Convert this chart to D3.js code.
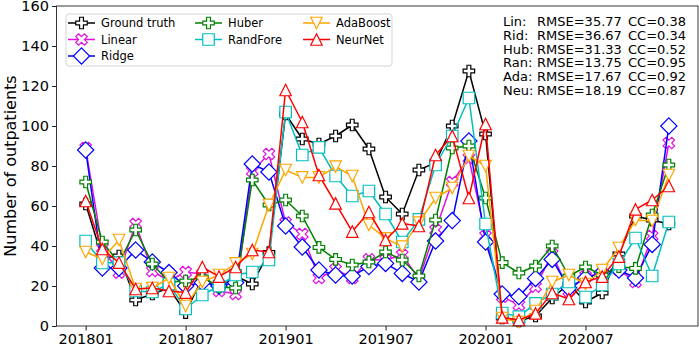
<!DOCTYPE html>
<html>
<head>
<meta charset="utf-8">
<script src="https://cdn.jsdelivr.net/npm/d3@7"></script>
<style>
  body { margin: 0; background: #fff; }
  svg { display: block; font-family: "DejaVu Sans", sans-serif; }
</style>
</head>
<body>
<script>
var w = 699;
var h = 344;

// tick labels on the month axis (index of month -> label)
var tickIdx = [0, 6, 12, 18, 24, 30];
var tickLab = ["201801", "201807", "201901", "201907", "202001", "202007"];
var yTicks = [0, 20, 40, 60, 80, 100, 120, 140, 160];

// series, one value per month, 2018-01 .. 2020-12
var truth = [61, 34, 35, 13, 16, 19, 6.7, 24, 19, 25, 21, 36.7, 106, 93.5, 91, 95, 100.5, 88.5, 64.5, 56, 78, 81.7, 100, 127.5, 96, 4, 2.5, 5, 14, 21, 12, 16.5, 36, 55, 53, 51];
var linear = [89, 39, 26.7, 51, 27.5, 22.5, 27, 26, 17.5, 16, 77.5, 86, 51.7, 46, 24, 28.3, 24, 33.3, 33, 35.5, 23.5, 48, 72, 84, 45, 14.7, 10.5, 19.7, 36, 17.5, 25, 26, 28, 22, 45, 91.5];
var ridge = [88, 29, 29, 38, 32, 26.7, 20, 21.7, 20, 21.7, 81, 77, 50, 39.5, 28, 25.5, 25, 29.7, 31.3, 26.3, 22, 42.5, 52.7, 92.5, 42, 16, 14.7, 23.8, 33.3, 19, 24, 26.7, 28, 24, 40.8, 100];
var huber = [72, 42, 31.7, 48, 31, 22, 22.5, 24.5, 19.5, 19, 73, 60.5, 63, 55, 39.3, 33.3, 30.5, 32, 37, 33, 25, 53, 89, 90, 64, 31.7, 26.5, 30, 40, 25, 29.5, 25.5, 29.7, 28.8, 55.5, 80.5];
var randfore = [42.5, 31.5, 31.7, 17.5, 17, 21, 8.5, 15.5, 20, 25.5, 27, 33, 107, 85.5, 89.3, 75, 65, 67.5, 56, 42, 53.3, 80.5, 95, 114, 51, 6.5, 4.7, 11.3, 16, 22, 14.5, 20.5, 31, 44, 25, 52];
var adaboost = [37, 33.5, 43, 18.5, 19, 24, 10, 22, 25.5, 31.3, 36, 60.5, 78, 74.3, 74.3, 79.7, 75, 50.5, 43.8, 39.7, 51.7, 64, 69, 85, 80, 4, 2, 7.5, 22, 25.5, 21, 28, 39, 53, 52.5, 75.5];
var neurnet = [62.5, 38.5, 31.7, 18.5, 19, 17.5, 16.7, 29.5, 24.7, 29.5, 38, 37, 118, 102, 75.5, 61.3, 47.2, 57, 43, 51.3, 50, 85.5, 95, 64, 101, 4.3, 3, 6.3, 16.5, 13.5, 22, 24.7, 34.7, 58.3, 63, 70];

var names = ["Ground truth", "Linear", "Ridge", "Huber", "RandFore", "AdaBoost", "NeurNet"];
var colors = ["#000000", "#e010e0", "#0000ff", "#008000", "#00bfbf", "#ffa500", "#ff0000"];
var shapes = ["plus", "x", "diamond", "plus", "square", "tri_down", "tri_up"];
var values = [truth, linear, ridge, huber, randfore, adaboost, neurnet];

var statLab = ["Lin:", "Rid:", "Hub:", "Ran:", "Ada:", "Neu:"];
var statRmse = ["35.77", "36.67", "31.33", "13.75", "17.67", "18.19"];
var statCc = ["0.38", "0.34", "0.52", "0.95", "0.92", "0.87"];

var pL = 56.5, pR = 698, pT = 6, pB = 326;
var ms = 11.5;

var svg = d3.select("body").append("svg")
    .attr("width", w)
    .attr("height", h);

var xScale = d3.scaleLinear()
    .domain([-1.75, 36.75])
    .range([pL, pR]);

var yScale = d3.scaleLinear()
    .domain([0, 160])
    .range([pB, pT]);

// marker outlines, centred at 0,0, s = marker size in px
function markerPath(kind, s) {
  var pts;
  if (kind == "plus") {
    pts = [[-1,-3],[1,-3],[1,-1],[3,-1],[3,1],[1,1],[1,3],[-1,3],[-1,1],[-3,1],[-3,-1],[-1,-1]]
      .map(function(p) { return [p[0] * s / 6, p[1] * s / 6]; });
  } else if (kind == "x") {
    pts = [[-1,-2],[0,-1],[1,-2],[2,-1],[1,0],[2,1],[1,2],[0,1],[-1,2],[-2,1],[-1,0],[-2,-1]]
      .map(function(p) { return [p[0] * s / 4, p[1] * s / 4]; });
  } else if (kind == "diamond") {
    var d = s * Math.SQRT2 / 2;
    pts = [[0,-d],[d,0],[0,d],[-d,0]];
  } else if (kind == "square") {
    pts = [[-s/2,-s/2],[s/2,-s/2],[s/2,s/2],[-s/2,s/2]];
  } else if (kind == "tri_up") {
    pts = [[0,-s/2],[s/2,s/2],[-s/2,s/2]];
  } else {
    pts = [[0,s/2],[s/2,-s/2],[-s/2,-s/2]];
  }
  return "M" + pts.map(function(p) { return p[0].toFixed(2) + "," + p[1].toFixed(2); }).join("L") + "Z";
}

var plot = svg.append("g");

var line = d3.line()
    .x(function(d, i) { return xScale(i); })
    .y(function(d) { return yScale(d); });

values.forEach(function(vals, k) {
  var g = plot.append("g");
  g.append("path")
    .datum(vals)
    .attr("d", line)
    .attr("fill", "none")
    .attr("stroke", colors[k])
    .attr("stroke-width", 1.5)
    .attr("stroke-linejoin", "round");
  g.selectAll("path.m")
    .data(vals)
    .enter()
    .append("path")
    .attr("class", "m")
    .attr("transform", function(d, i) { return "translate(" + xScale(i) + "," + yScale(d) + ")"; })
    .attr("d", markerPath(shapes[k], ms))
    .attr("fill", "#fff")
    .attr("stroke", colors[k])
    .attr("stroke-width", 1.2)
    .attr("stroke-linejoin", "miter");
});

// axes
var xAxis = d3.axisBottom(xScale)
    .tickValues(tickIdx)
    .tickFormat(function(d, i) { return tickLab[i]; })
    .tickSize(4.5)
    .tickPadding(3)
    .tickSizeOuter(0);

var yAxis = d3.axisLeft(yScale)
    .tickValues(yTicks)
    .tickSize(4.5)
    .tickPadding(3)
    .tickSizeOuter(0);

var gx = svg.append("g")
    .attr("transform", "translate(0," + pB + ")")
    .call(xAxis);

var gy = svg.append("g")
    .attr("transform", "translate(" + pL + ",0)")
    .call(yAxis);

[gx, gy].forEach(function(g) {
  g.select(".domain").remove();
  g.selectAll("line").attr("stroke", "#000").attr("stroke-width", 0.9);
  g.selectAll("text")
    .attr("fill", "#000")
    .style("font-family", "DejaVu Sans")
    .style("font-size", "14.5px");
});

svg.append("rect")
    .attr("x", pL)
    .attr("y", pT)
    .attr("width", pR - pL)
    .attr("height", pB - pT)
    .attr("fill", "none")
    .attr("stroke", "#222")
    .attr("stroke-width", 0.9);

svg.append("text")
    .attr("transform", "translate(16," + ((pT + pB) / 2) + ") rotate(-90)")
    .style("text-anchor", "middle")
    .style("font-size", "16px")
    .text("Number of outpatients");

// legend, three columns
var legCols = [[0, 1, 2], [3, 4], [5, 6]];
var legX = [68, 195, 303];
var legY = [23, 39.5, 56];

var leg = svg.append("g");
leg.append("rect")
    .attr("x", 66)
    .attr("y", 14)
    .attr("width", 326)
    .attr("height", 52)
    .attr("rx", 3)
    .attr("fill", "#fff")
    .attr("fill-opacity", 0.8)
    .attr("stroke", "#d0d0d0")
    .attr("stroke-width", 0.9);

legCols.forEach(function(col, c) {
  col.forEach(function(k, r) {
    var x0 = legX[c], y0 = legY[r];
    leg.append("line")
      .attr("x1", x0).attr("x2", x0 + 27)
      .attr("y1", y0).attr("y2", y0)
      .attr("stroke", colors[k])
      .attr("stroke-width", 1.5);
    leg.append("path")
      .attr("transform", "translate(" + (x0 + 13.5) + "," + y0 + ")")
      .attr("d", markerPath(shapes[k], ms))
      .attr("fill", "#fff")
      .attr("stroke", colors[k])
      .attr("stroke-width", 1.2);
    leg.append("text")
      .attr("x", x0 + 33)
      .attr("y", y0 + 4)
      .style("font-size", "11.5px")
      .text(names[k]);
  });
});

// error statistics
var stats = svg.append("g").style("font-size", "13px");
statLab.forEach(function(s, i) {
  var yb = 26 + i * 13.8;
  stats.append("text").attr("x", 503).attr("y", yb).text(s);
  stats.append("text").attr("x", 537).attr("y", yb).text("RMSE=" + statRmse[i]);
  stats.append("text").attr("x", 628).attr("y", yb).text("CC=" + statCc[i]);
});
</script>
</body>
</html>
